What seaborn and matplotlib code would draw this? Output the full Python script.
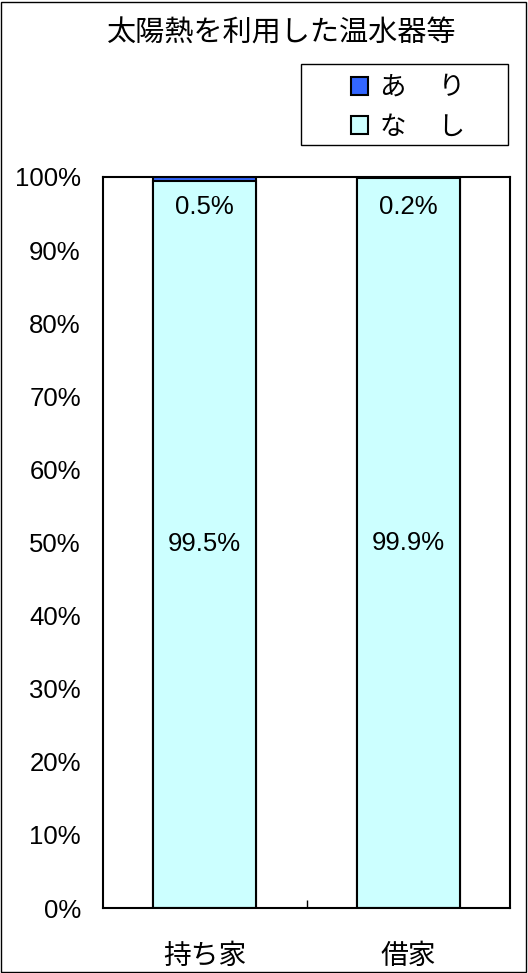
import matplotlib
matplotlib.use("Agg")
import matplotlib.pyplot as plt
import seaborn as sns
import pandas as pd
from matplotlib.patches import Patch, Rectangle

sns.set_theme(style="white", rc={"text.color": "black", "xtick.color": "black",
                                 "ytick.color": "black", "axes.labelcolor": "black"})
plt.rcParams['font.family'] = ['Liberation Sans', 'Noto Sans CJK JP', 'DejaVu Sans']

title = "太陽熱を利用した温水器等"
categories = ["持ち家", "借家"]
nashi = [99.5, 99.9]   # なし
ari = [0.5, 0.2]       # あり
series_names = ["あ　 り", "な　 し"]
yticks = [0, 10, 20, 30, 40, 50, 60, 70, 80, 90, 100]

col_ari = "#3366FF"
col_nashi = "#CCFFFF"

df = pd.DataFrame({"cat": categories, "nashi": nashi, "ari": ari})
df["total"] = df["nashi"] + df["ari"]

fig = plt.figure(figsize=(5.28, 9.73), dpi=100)
ax = fig.add_axes([103/528, 65/973, 407/528, 731/973])

sns.barplot(data=df, x="cat", y="total", color=col_ari, saturation=1,
            edgecolor="black", linewidth=1.5, width=0.505, ax=ax)
sns.barplot(data=df, x="cat", y="nashi", color=col_nashi, saturation=1,
            edgecolor="black", linewidth=1.5, width=0.505, ax=ax)

ax.set_ylim(0, 100)
ax.set_xlim(-0.5, 1.5)
ax.set_yticks(yticks)
ax.set_yticklabels([f"{v}%" for v in yticks], fontsize=18.5,
                   family=['Liberation Sans', 'DejaVu Sans'])
ax.tick_params(axis='y', length=0, pad=16)
ax.tick_params(axis='x', length=0, pad=24)
ax.set_xticks(range(len(categories)))
ax.set_xticklabels(categories, fontsize=20, family=['Noto Sans CJK JP', 'DejaVu Sans'])
ax.set_xticks([0.5], minor=True)
ax.tick_params(axis='x', which='minor', direction='in', length=6, width=1, color='black', bottom=True)
ax.set_xlabel("")
ax.set_ylabel("")
for s in ax.spines.values():
    s.set_color("black")
    s.set_linewidth(1.5)

for i in range(len(categories)):
    ax.text(i, nashi[i] / 2, f"{nashi[i]}%", ha="center", va="center",
            fontsize=18.5, family=['Liberation Sans', 'DejaVu Sans'])
    top = min(df["total"][i], 100)
    ax.annotate(f"{ari[i]}%", xy=(i, top), xytext=(0, -18), textcoords="offset pixels",
                ha="center", va="top", fontsize=18.5, family=['Liberation Sans', 'DejaVu Sans'])

fig.text(282/528, 1 - 34/973, title, ha="center", va="center", fontsize=21,
         family=['Noto Sans CJK JP', 'DejaVu Sans'])

# legend box
fig.patches.append(Rectangle((301/528, 1 - 145/973), 207/528, 81/973,
                             transform=fig.transFigure, fill=False,
                             edgecolor="black", linewidth=1))
handles = [Patch(facecolor=col_ari, edgecolor="black", linewidth=1.5),
           Patch(facecolor=col_nashi, edgecolor="black", linewidth=1.5)]
fig.legend(handles, series_names, loc="upper left",
           bbox_to_anchor=(351/528, 1 - 74/973), frameon=False,
           prop={'family': ['Noto Sans CJK JP', 'DejaVu Sans'], 'size': 19},
           handlelength=0.66, handleheight=0.66, handletextpad=0.42,
           labelspacing=0.47, borderpad=0.0, borderaxespad=0)

# outer border
fig.patches.append(Rectangle((1/528, 1/973), 525/528, 970/973,
                             transform=fig.transFigure, fill=False,
                             edgecolor="black", linewidth=1))

fig.savefig("out.png", dpi=100)
